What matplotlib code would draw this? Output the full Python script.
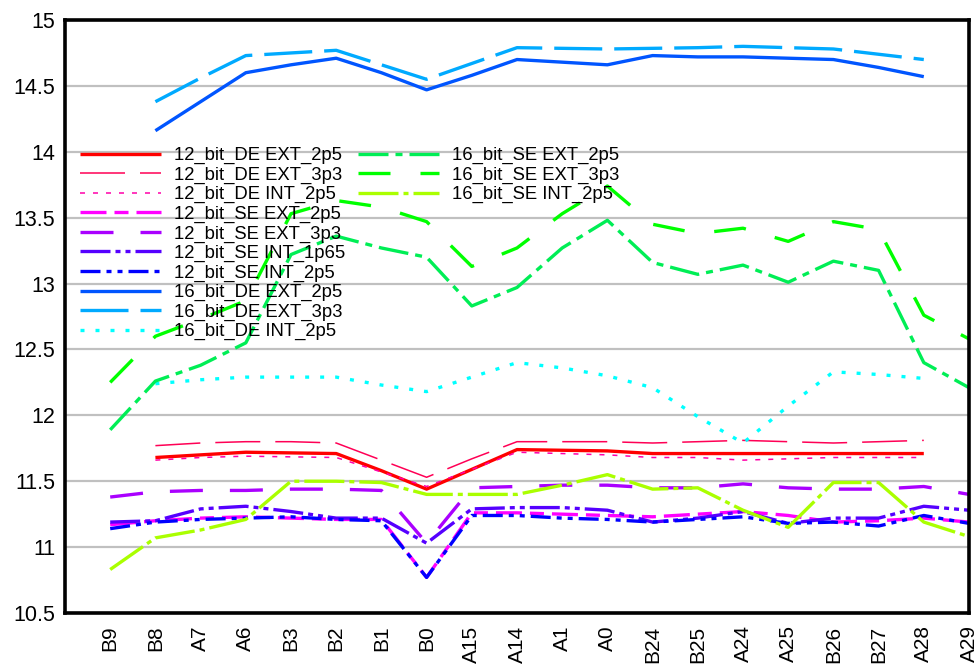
import numpy as np
import matplotlib
matplotlib.use("Agg")
import matplotlib.pyplot as plt
from matplotlib.ticker import FuncFormatter, MultipleLocator

plt.rcParams['font.family'] = ['Liberation Sans', 'DejaVu Sans']
plt.rcParams['lines.scale_dashes'] = False

nan = np.nan
categories = ["B9", "B8", "A7", "A6", "B3", "B2", "B1", "B0", "A15", "A14",
              "A1", "A0", "B24", "B25", "A24", "A25", "B26", "B27", "A28", "A29"]

de12_ext_2p5 = [nan, 11.68, 11.70, 11.72, 11.715, 11.71, 11.58, 11.44, 11.59, 11.74,
                11.735, 11.73, 11.71, 11.71, 11.71, 11.71, 11.71, 11.71, 11.71, nan]
de12_ext_3p3 = [nan, 11.77, 11.79, 11.80, 11.80, 11.79, 11.66, 11.53, 11.67, 11.80,
                11.80, 11.80, 11.79, 11.80, 11.81, 11.80, 11.79, 11.80, 11.81, nan]
de12_int_2p5 = [nan, 11.66, 11.68, 11.69, 11.685, 11.68, 11.57, 11.46, 11.59, 11.72,
                11.71, 11.70, 11.68, 11.68, 11.66, 11.67, 11.68, 11.68, 11.68, nan]
se12_ext_2p5 = [11.17, 11.20, 11.22, 11.23, 11.22, 11.21, 11.21, 10.77, 11.26, 11.26,
                11.25, 11.24, 11.23, 11.25, 11.27, 11.24, 11.19, 11.20, 11.22, 11.19]
se12_ext_3p3 = [11.38, 11.42, 11.43, 11.43, 11.44, 11.44, 11.43, 11.03, 11.45, 11.46,
                11.47, 11.47, 11.45, 11.45, 11.48, 11.45, 11.44, 11.44, 11.46, 11.40]
se12_int_1p65 = [11.19, 11.20, 11.29, 11.31, 11.27, 11.22, 11.22, 11.03, 11.29, 11.30,
                 11.30, 11.28, 11.19, 11.22, 11.27, 11.18, 11.22, 11.22, 11.31, 11.28]
se12_int_2p5 = [11.14, 11.19, 11.21, 11.22, 11.23, 11.21, 11.20, 10.77, 11.24, 11.24,
                11.22, 11.21, 11.19, 11.21, 11.23, 11.18, 11.19, 11.16, 11.24, 11.18]
de16_ext_2p5 = [nan, 14.16, 14.38, 14.60, 14.66, 14.71, 14.60, 14.47, 14.58, 14.70,
                14.68, 14.66, 14.73, 14.72, 14.72, 14.71, 14.70, 14.64, 14.57, nan]
de16_ext_3p3 = [nan, 14.38, 14.56, 14.73, 14.75, 14.77, 14.66, 14.55, 14.67, 14.79,
                14.785, 14.78, 14.785, 14.79, 14.80, 14.79, 14.78, 14.74, 14.70, nan]
de16_int_2p5 = [nan, 12.24, 12.27, 12.29, 12.29, 12.29, 12.23, 12.18, 12.29, 12.40,
                12.36, 12.30, 12.21, 11.99, 11.79, 12.07, 12.33, 12.31, 12.28, nan]
se16_ext_2p5 = [11.89, 12.26, 12.38, 12.55, 13.22, 13.36, 13.27, 13.20, 12.83, 12.97,
                13.27, 13.48, 13.16, 13.07, 13.14, 13.01, 13.17, 13.10, 12.40, 12.21]
se16_ext_3p3 = [12.25, 12.60, 12.73, 12.87, 13.53, 13.63, 13.58, 13.47, 13.13, 13.27,
                13.53, 13.74, 13.45, 13.38, 13.42, 13.32, 13.47, 13.41, 12.76, 12.58]
se16_int_2p5 = [10.83, 11.07, 11.13, 11.21, 11.50, 11.50, 11.49, 11.40, 11.40, 11.40,
                11.47, 11.55, 11.44, 11.45, 11.28, 11.15, 11.49, 11.49, 11.19, 11.08]

labels = ["12_bit_DE EXT_2p5", "12_bit_DE EXT_3p3", "12_bit_DE INT_2p5",
          "12_bit_SE EXT_2p5", "12_bit_SE EXT_3p3", "12_bit_SE INT_1p65",
          "12_bit_SE INT_2p5", "16_bit_DE EXT_2p5", "16_bit_DE EXT_3p3",
          "16_bit_DE INT_2p5", "16_bit_SE EXT_2p5", "16_bit_SE EXT_3p3",
          "16_bit_SE INT_2p5"]
series = [de12_ext_2p5, de12_ext_3p3, de12_int_2p5, se12_ext_2p5, se12_ext_3p3,
          se12_int_1p65, se12_int_2p5, de16_ext_2p5, de16_ext_3p3, de16_int_2p5,
          se16_ext_2p5, se16_ext_3p3, se16_int_2p5]
colors = ["#ff0000", "#ff0055", "#ff00aa", "#ff00ff", "#aa00ff", "#5500ff", "#0000ff",
          "#0055ff", "#00aaff", "#00ffff", "#00ee55", "#00ff00", "#aaff00"]
k = 0.72  # px -> pt
px = lambda *a: (0, tuple(v * k for v in a))
styles = ["-", px(45, 15), px(5, 8), px(26, 8, 14, 8), px(33, 27),
          px(30, 5, 5, 5, 5, 5), px(20, 6, 5, 6, 5, 6), "-", px(48, 12), px(4, 11),
          px(30, 7, 7, 7), px(32, 30), px(40, 5, 5, 5)]
widths = [2.4, 1.1, 1.1, 2.4, 2.4, 2.4, 2.4, 2.4, 2.4, 2.4, 2.4, 2.4, 2.4]

fig = plt.figure(figsize=(9.79, 6.64), dpi=100)
ax = fig.add_axes([65 / 979, 1 - 613 / 664, 904 / 979, 593 / 664])

x = np.arange(len(categories))
handles = []
for vals, lab, c, ls, lw in zip(series, labels, colors, styles, widths):
    h, = ax.plot(x, vals, color=c, linestyle=ls, linewidth=lw, label=lab,
                 solid_capstyle='butt', dash_capstyle='butt')
    handles.append(h)

ax.set_xlim(-1, 19)
ax.set_ylim(10.5, 15)
ax.set_xticks(x)
ax.set_xticklabels(categories, rotation=90, fontsize=15)
ax.set_xticks(np.arange(1, 20, 2), minor=True)
ax.yaxis.set_major_locator(MultipleLocator(0.5))
ax.yaxis.set_major_formatter(FuncFormatter(lambda v, p: f"{v:g}"))
ax.tick_params(axis='y', labelsize=15.5, length=0, pad=7)
ax.tick_params(axis='x', which='both', length=0, pad=9)
ax.grid(True, which='major', axis='y', color='#c0c0c0', linewidth=1.6)
ax.grid(True, which='minor', axis='x', color='#c0c0c0', linewidth=1.6)
ax.set_axisbelow(True)
for s in ax.spines.values():
    s.set_linewidth(2.6)
    s.set_color('black')

fs = 13.3
common = dict(loc='upper left', frameon=False, fontsize=fs, handlelength=4.4,
              handletextpad=0.7, labelspacing=0.13, borderpad=0, borderaxespad=0)
leg1 = ax.legend(handles[:10], labels[:10],
                 bbox_to_anchor=(15 / 904, (613 - 147) / 593), **common)
ax.add_artist(leg1)
ax.legend(handles[10:], labels[10:],
          bbox_to_anchor=((358 - 65) / 904, (613 - 147) / 593), **common)

fig.savefig("out.png", dpi=100)
